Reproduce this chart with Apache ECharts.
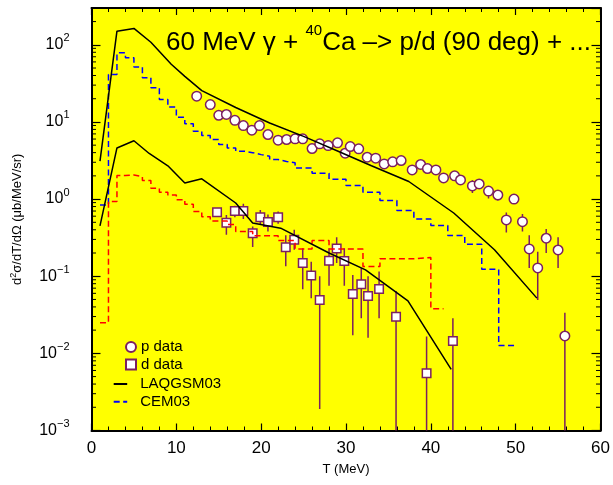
<!DOCTYPE html>
<html>
<head>
<meta charset="utf-8">
<script src="https://cdn.jsdelivr.net/npm/echarts@6/dist/echarts.min.js"></script>
<style>html,body{margin:0;padding:0;background:#fff;}#c{width:613px;height:485px;}</style>
</head>
<body>
<div id="c"></div>
<script>
// ---- data ----
const xTickLabels = [0, 10, 20, 30, 40, 50, 60];
const yMinorTicks = [0.002,0.003,0.004,0.005,0.006,0.007,0.008,0.009,
  0.02,0.03,0.04,0.05,0.06,0.07,0.08,0.09,
  0.2,0.3,0.4,0.5,0.6,0.7,0.8,0.9,
  2,3,4,5,6,7,8,9,
  20,30,40,50,60,70,80,90,
  200];

// p data (circles)
const pT   = [12.4,14.0,15.0,15.9,16.9,17.9,18.9,19.8,20.8,22.0,23.0,24.0,24.9,26.0,26.9,27.9,29.0,29.9,30.5,31.5,32.5,33.5,34.5,35.5,36.5,37.8,38.8,39.6,40.6,41.5,42.8,43.5,44.9,45.7,46.8,47.9,48.9,49.8,50.8,51.6,52.6,53.6,55.0,55.8];
const pVal = [21.6,16.8,12.2,12.5,10.5,8.97,7.83,8.97,6.87,5.81,5.92,6.04,6.04,4.52,5.2,4.94,5.36,3.93,4.8,4.48,3.49,3.39,2.86,3.04,3.16,2.39,2.81,2.49,2.39,1.88,2.0,1.77,1.48,1.57,1.27,1.13,0.537,1.0,0.51,0.226,0.128,0.311,0.219,0.0168];
const pLo  = [21.6,16.8,12.2,12.5,10.5,8.97,7.83,8.97,6.87,5.81,5.92,6.04,6.04,4.52,5.2,4.94,5.36,3.93,4.8,4.48,3.49,3.39,2.86,3.04,3.16,2.25,2.65,2.35,2.25,1.65,1.8,1.55,1.2,1.35,1.02,0.96,0.37,0.92,0.38,0.128,0.049,0.2,0.128,0.0009];
const pHi  = [21.6,16.8,12.2,12.5,10.5,8.97,7.83,8.97,6.87,5.81,5.92,6.04,6.04,4.52,5.2,4.94,5.36,3.93,4.8,4.48,3.49,3.39,2.86,3.04,3.16,2.55,2.98,2.65,2.55,2.15,2.2,2.0,1.75,1.8,1.45,1.3,0.67,1.08,0.64,0.34,0.208,0.41,0.32,0.0337];

// d data (squares)
const dT   = [14.8,15.9,16.9,17.9,19.0,19.9,20.8,22.0,22.9,23.9,24.9,25.9,26.9,28.0,28.9,29.8,30.8,31.8,32.6,33.9,35.9,39.5,42.6];
const dVal = [0.676,0.495,0.703,0.703,0.361,0.582,0.506,0.582,0.238,0.296,0.148,0.102,0.0493,0.159,0.228,0.158,0.0589,0.0787,0.0555,0.0684,0.0299,0.00552,0.0145];
const dLo  = [0.6,0.344,0.58,0.55,0.24,0.46,0.38,0.48,0.135,0.22,0.068,0.052,0.0019,0.075,0.148,0.075,0.0172,0.0285,0.0159,0.0285,0.0009,0.0009,0.0009];
const dHi  = [0.76,0.624,0.82,0.87,0.44,0.72,0.63,0.69,0.34,0.40,0.23,0.154,0.10,0.23,0.32,0.23,0.104,0.127,0.10,0.115,0.0645,0.0165,0.0285];

// LAQGSM03 curves
const laqPT = [1,3,5,7,9.4,11,13,17,21,25,29,33,37.4,42.7,47.5,52.5];
const laqPV = [3.1,150,163,108,56,39,25.5,15.4,9.7,6.5,4.2,2.7,1.69,0.66,0.22,0.052];
const laqDT = [1,3,5,6.8,9,11,13,17,19,22.3,28,32.3,37.3,42.4];
const laqDV = [0.45,4.6,5.7,3.9,2.7,1.62,1.83,0.89,0.49,0.42,0.2,0.121,0.048,0.0062];

// CEM03 histograms (bin edges and bin values)
const cemPEdges = [1,2,3,4,5,6,7,8,9,10,11,12,13,14,15,16,17,18,19,20,21,22,23,24,26,28,30,32,34,36,38,40,42,44,46,48,50];
const cemPVals  = [0.84,41.2,78.7,67.8,51.4,37.4,27.7,19.5,15.6,11.5,9.45,7.6,6.67,5.92,5.1,4.61,4.18,4.0,3.77,3.6,3.25,3.07,2.95,2.52,2.17,1.81,1.50,1.23,0.957,0.71,0.553,0.453,0.336,0.26,0.123,0.0126];
const cemDEdges = [1,2,3,4,5,6,7,8,9,10,11,12,13,14,16,17,19,22,24,26,28,32,34,38,40,41.5];
const cemDVals  = [0.025,0.93,2.02,2.05,1.95,1.74,1.38,1.23,1.13,0.98,0.86,0.69,0.59,0.52,0.47,0.38,0.334,0.29,0.225,0.29,0.225,0.134,0.168,0.175,0.038];

// ---- chart ----
const FONT = 'Liberation Sans, Arial, sans-serif';
const PURPLE = '#7b1f5f';

function steps(edges, vals) {
  const d = vals.map((v, i) => [edges[i], v]);
  d.push([edges[edges.length - 1], vals[vals.length - 1]]);
  return d;
}
function pairs(xs, ys) { return xs.map((x, i) => [x, ys[i]]); }
function errData(xs, lo, hi) { return xs.map((x, i) => [x, lo[i], hi[i]]); }

function errRender(params, api) {
  const a = api.coord([api.value(0), api.value(1)]);
  const b = api.coord([api.value(0), api.value(2)]);
  return { type: 'line', shape: { x1: a[0], y1: a[1], x2: b[0], y2: b[1] },
           style: { stroke: PURPLE, lineWidth: 1.5 } };
}

function expLabel(v) {
  const e = Math.round(Math.log10(v));
  return '{b|10}{e|' + (e < 0 ? '\u2212' + (-e) : e) + '}';
}

const axisLineStyle = { show: true, onZero: false, lineStyle: { color: '#000', width: 2 } };
const labelRich = {
  b: { fontSize: 16, lineHeight: 24, color: '#000', fontFamily: FONT },
  e: { fontSize: 11, lineHeight: 11, verticalAlign: 'top', color: '#000', fontFamily: FONT }
};

const chart = echarts.init(document.getElementById('c'), null, { renderer: 'canvas' });
chart.setOption({
  animation: false,
  backgroundColor: '#ffffff',
  textStyle: { fontFamily: FONT },
  title: {
    text: '{a|60 MeV \u03B3 + }{s|40}{a|Ca \u2013> p/d (90 deg) + ...}',
    left: 166, top: 23, padding: 0,
    textStyle: {
      fontWeight: 'normal',
      rich: {
        a: { fontSize: 26, lineHeight: 40, color: '#000', fontFamily: FONT, fontWeight: 'normal' },
        s: { fontSize: 15, lineHeight: 15, verticalAlign: 'top', color: '#000', fontFamily: FONT, fontWeight: 'normal' }
      }
    }
  },
  legend: [
    { data: ['p data', 'd data'], orient: 'vertical', left: 125, top: 339.5, padding: 0,
      itemWidth: 10, itemHeight: 10, itemGap: 2.6,
      textStyle: { fontSize: 15, lineHeight: 15, color: '#000', fontFamily: FONT } },
    { data: ['LAQGSM03', 'CEM03'], orient: 'vertical', left: 112.7, top: 376.5, padding: 0,
      itemWidth: 13.5, itemHeight: 10, itemGap: 2.7,
      itemStyle: { opacity: 0 },
      textStyle: { fontSize: 15, lineHeight: 15, color: '#000', fontFamily: FONT, padding: [0, 0, 0, 8] } }
  ],
  grid: { left: 91.5, right: 12.5, top: 8, bottom: 54.5, show: true,
          backgroundColor: '#ffff00', borderWidth: 0 },
  xAxis: [
    { type: 'value', min: 0, max: 60, interval: 10, position: 'bottom',
      axisLine: axisLineStyle,
      axisTick: { inside: true, length: 7, lineStyle: { color: '#000', width: 1.2 } },
      minorTick: { show: true, splitNumber: 5, length: 4, lineStyle: { color: '#000', width: 1 } },
      splitLine: { show: false },
      axisLabel: { fontSize: 17, color: '#000', margin: 9, fontFamily: FONT,
                   formatter: v => (xTickLabels.indexOf(v) >= 0 ? String(v) : '') },
      name: 'T (MeV)', nameLocation: 'middle', nameGap: 32,
      nameTextStyle: { fontSize: 13, color: '#000', fontFamily: FONT } },
    { type: 'value', min: 0, max: 60, interval: 10, position: 'top',
      axisLine: axisLineStyle,
      axisTick: { inside: true, length: 7, lineStyle: { color: '#000', width: 1.2 } },
      minorTick: { show: true, splitNumber: 5, length: 4, lineStyle: { color: '#000', width: 1 } },
      splitLine: { show: false }, axisLabel: { show: false } }
  ],
  yAxis: [
    { type: 'log', logBase: 10, min: 0.001, max: 300, position: 'left',
      axisLine: axisLineStyle,
      axisTick: { inside: true, length: 9, lineStyle: { color: '#000', width: 1.2 } },
      splitLine: { show: false },
      axisLabel: { formatter: expLabel, rich: labelRich, margin: 22, showMaxLabel: false, showMinLabel: true },
      name: '{a|d}{s|2}{a|\u03C3/dT/d\u03A9 (\u03BCb/MeV/sr)}', nameLocation: 'middle', nameGap: 66, nameRotate: 90,
      nameTextStyle: { color: '#000', rich: {
        a: { fontSize: 13, lineHeight: 16, color: '#000', fontFamily: FONT },
        s: { fontSize: 9, lineHeight: 9, verticalAlign: 'top', color: '#000', fontFamily: FONT } } } },
    { type: 'log', logBase: 10, min: 0.001, max: 300, position: 'right',
      axisLine: axisLineStyle,
      axisTick: { inside: true, length: 9, lineStyle: { color: '#000', width: 1.2 } },
      splitLine: { show: false }, axisLabel: { show: false } }
  ],
  series: [
    { type: 'custom', name: 'minor ticks', silent: true, z: 10,
      data: yMinorTicks.map(v => [0, v]), encode: { x: 0, y: 1 },
      renderItem: (params, api) => {
        const p = api.coord([0, api.value(1)]);
        const cs = params.coordSys;
        return { type: 'group', children: [
          { type: 'line', shape: { x1: cs.x, y1: p[1], x2: cs.x + 4.5, y2: p[1] }, style: { stroke: '#000', lineWidth: 1 } },
          { type: 'line', shape: { x1: cs.x + cs.width - 4.5, y1: p[1], x2: cs.x + cs.width, y2: p[1] }, style: { stroke: '#000', lineWidth: 1 } }
        ] };
      } },
    { type: 'line', name: 'CEM03', data: steps(cemPEdges, cemPVals), step: 'end', symbol: 'none',
      lineStyle: { color: '#0000ff', width: 1.5, type: [6, 3.5] }, itemStyle: { color: '#0000ff' } },
    { type: 'line', name: 'CEM03 d', data: steps(cemDEdges, cemDVals), step: 'end', symbol: 'none',
      lineStyle: { color: '#ff0000', width: 1.5, type: [6, 3.5] }, itemStyle: { color: '#ff0000' } },
    { type: 'line', name: 'LAQGSM03', data: pairs(laqPT, laqPV), symbol: 'none',
      lineStyle: { color: '#000', width: 1.5 }, itemStyle: { color: '#000' } },
    { type: 'line', name: 'LAQGSM03', data: pairs(laqDT, laqDV), symbol: 'none',
      lineStyle: { color: '#000', width: 1.5 }, itemStyle: { color: '#000' } },
    { type: 'custom', name: 'p err', silent: true, clip: true,
      data: errData(pT, pLo, pHi), encode: { x: 0, y: [1, 2] }, renderItem: errRender },
    { type: 'custom', name: 'd err', silent: true, clip: true,
      data: errData(dT, dLo, dHi), encode: { x: 0, y: [1, 2] }, renderItem: errRender },
    { type: 'scatter', name: 'p data', data: pairs(pT, pVal), symbol: 'circle', symbolSize: 9.5,
      itemStyle: { color: '#ffffff', borderColor: PURPLE, borderWidth: 1.5, opacity: 1 } },
    { type: 'scatter', name: 'd data', data: pairs(dT, dVal), symbol: 'rect', symbolSize: 8.5,
      itemStyle: { color: '#ffffff', borderColor: PURPLE, borderWidth: 1.5, opacity: 1 } }
  ]
});
</script>
</body>
</html>
